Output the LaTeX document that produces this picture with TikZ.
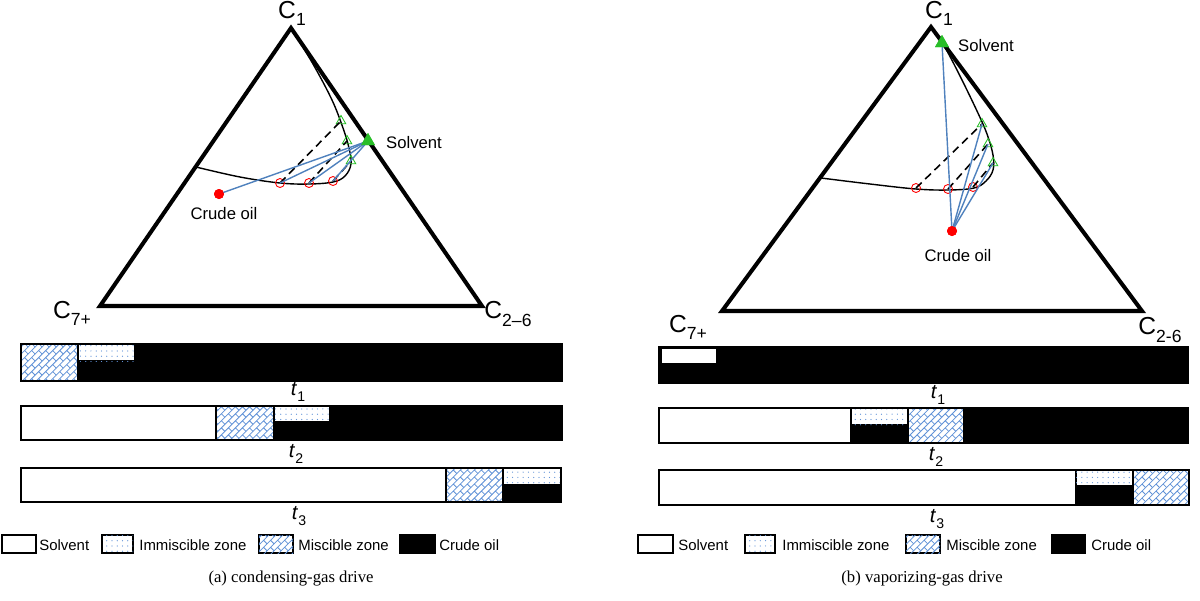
\documentclass[tikz,border=0pt]{standalone}
\usepackage{fontspec}
\setmainfont{Liberation Serif}
\setsansfont{Liberation Sans}
\usetikzlibrary{shapes.geometric,patterns}
\definecolor{tieblue}{RGB}{79,129,189}
\definecolor{hatchblue}{RGB}{95,145,215}
\definecolor{mkgreen}{RGB}{40,190,40}
\definecolor{mkred}{RGB}{255,0,0}
\pgfdeclarepatternformonly{sparsedots}{\pgfqpoint{-1pt}{-1pt}}{\pgfqpoint{4pt}{4pt}}{\pgfqpoint{3pt}{3pt}}{%
  \pgfpathcircle{\pgfqpoint{0.75pt}{0.75pt}}{0.35pt}\pgfusepath{fill}}
\pgfdeclarepatternformonly{diagbrick}{\pgfqpoint{-0.5pt}{-0.5pt}}{\pgfqpoint{4.5pt}{4.5pt}}{\pgfqpoint{4pt}{4pt}}{%
  \pgfsetlinewidth{0.45pt}%
  \pgfpathmoveto{\pgfqpoint{0pt}{0pt}}\pgfpathlineto{\pgfqpoint{4pt}{4pt}}%
  \pgfpathmoveto{\pgfqpoint{2pt}{2pt}}\pgfpathlineto{\pgfqpoint{4pt}{0pt}}%
  \pgfusepath{stroke}}
\newcommand{\csub}[1]{\raisebox{-0.55ex}{\fontsize{10}{10}\selectfont #1}}
\newcommand{\tlab}[1]{\textit{t}\raisebox{-0.6ex}{\fontsize{8}{8}\selectfont #1}}
\begin{document}
\begin{tikzpicture}[x=0.02cm,y=-0.02cm,
  font=\sffamily,
  tri/.style={draw=black,line width=2.3pt,line join=miter},
  binodal/.style={draw=black,line width=0.8pt},
  tieline/.style={draw=black,line width=0.9pt,dash pattern=on 4.5pt off 2.8pt},
  blueline/.style={draw=tieblue,line width=0.8pt},
  oilpt/.style={circle,fill=mkred,inner sep=0pt,minimum size=0.2cm},
  bubble/.style={circle,draw=mkred,line width=0.5pt,inner sep=0pt,minimum size=0.18cm},
  solpt/.style={regular polygon,regular polygon sides=3,fill=mkgreen,inner sep=0pt,minimum size=0.32cm},
  dew/.style={regular polygon,regular polygon sides=3,draw=mkgreen,line width=0.5pt,inner sep=0pt,minimum size=0.22cm},
  clab/.style={font=\sffamily\fontsize{14}{16}\selectfont,inner sep=0pt},
  plab/.style={font=\sffamily\fontsize{9.5}{11}\selectfont,inner sep=0pt},
  tl/.style={font=\sffamily\fontsize{11.5}{12}\selectfont,inner sep=0pt},
  leg/.style={font=\sffamily\fontsize{8.5}{10}\selectfont,inner sep=0pt,anchor=west},
  captext/.style={font=\rmfamily\fontsize{9.5}{11}\selectfont,inner sep=0pt},
  barframe/.style={draw=black,line width=1.1pt},
  cellline/.style={draw=black,line width=0.7pt},
  hatchcell/.style={fill=white,postaction={pattern=diagbrick,pattern color=hatchblue}},
  dotcell/.style={fill=white,postaction={pattern=sparsedots,pattern color=hatchblue}},
]
\useasboundingbox (0,0) rectangle (1200,600);

% ================= (a) condensing-gas drive =================
\draw[tri] (291,28) -- (482,306) -- (100,306) -- cycle;

\draw[binodal] plot[smooth,tension=0.6] coordinates {(196,167) (240,177) (280,183) (309,184) (333,182) (345,176) (351,164) (349,148) (343,128) (332,100) (313,64) (291,28)};

\node[bubble] (ab1) at (280,183) {};
\node[bubble] (ab2) at (309,183) {};
\node[bubble] (ab3) at (333,181) {};
\node[dew] (ad1) at (341,121) {};
\node[dew] (ad2) at (347,141) {};
\node[dew] (ad3) at (351,161) {};
\node[oilpt] (aoil) at (219,194) {};
\node[solpt] (asol) at (368,141) {};

\draw[tieline] (ab1.center) -- (ad1.center);
\draw[tieline] (ab2.center) -- (ad2.center);
\draw[tieline] (ab3.center) -- (ad3.center);
\draw[blueline] (asol.center) -- (aoil.center);
\draw[blueline] (asol.center) -- (ab1.center);
\draw[blueline] (asol.center) -- (ab2.center);
\draw[blueline] (asol.center) -- (ab3.center);
\node[oilpt] at (aoil) {};
\node[solpt] at (asol) {};

\node[plab] (aSolL) at (414,143) {Solvent};
\node[plab] (aOilL) at (224,214) {Crude oil};

% bars (a)
\fill[black] (21,344) rectangle (562,381);
\path[hatchcell] (21,344) rectangle (78,381);
\draw[cellline] (78,344) -- (78,381);
\path[dotcell,cellline] (78,344) rectangle (135,361);
\draw[barframe] (21,344) rectangle (562,381);
\node[tl] (at1) at (298,392) {\tlab{1}};

\fill[black] (21,406) rectangle (562,440);
\fill[white] (21,406) rectangle (216,440);
\path[hatchcell] (216,406) rectangle (274,440);
\draw[cellline] (216,406) -- (216,440) (274,406) -- (274,440);
\path[dotcell,cellline] (274,406) rectangle (330,422);
\draw[barframe] (21,406) rectangle (562,440);
\node[tl] (at2) at (296,454) {\tlab{2}};

\fill[black] (21,468) rectangle (561,502);
\fill[white] (21,468) rectangle (446,502);
\path[hatchcell] (446,468) rectangle (503,502);
\draw[cellline] (446,468) -- (446,502) (503,468) -- (503,502);
\path[dotcell,cellline] (503,468) rectangle (561,485);
\draw[barframe] (21,468) rectangle (561,502);
\node[tl] (at3) at (299,516) {\tlab{3}};

% vertex labels (a)
\node[clab] (La1) at (292,13) {C\csub{1}};
\node[clab] (La7) at (72,313) {C\csub{7+}};
\node[clab] (La26) at (508,314) {C\csub{2–6}};

% legend (a)
\draw[cellline,fill=white] (2,535) rectangle (36,553);
\node[leg] (aLs) at (39,545) {Solvent};
\path[dotcell,cellline] (102,535) rectangle (133,553);
\node[leg] (aLi) at (139,545) {Immiscible zone};
\path[hatchcell,cellline] (259,535) rectangle (293,553);
\node[leg] (aLm) at (298,545) {Miscible zone};
\draw[cellline,fill=black] (400,535) rectangle (435,553);
\node[leg] (aLc) at (439,545) {Crude oil};

\node[captext] (capa) at (291,578) {(a) condensing-gas drive};

% ================= (b) vaporizing-gas drive =================
\draw[tri] (931,27) -- (1142,311) -- (722,311) -- cycle;

\draw[binodal] plot[smooth,tension=0.6] coordinates {(821,178) (870,184) (916,189) (948,190) (974,188) (986,181) (993,170) (993,155) (987,134) (977,111) (958,72) (943,44) (931,27)};

\node[bubble] (bb1) at (916,188) {};
\node[bubble] (bb2) at (948,189) {};
\node[bubble] (bb3) at (973,187) {};
\node[dew] (bd1) at (982,124) {};
\node[dew] (bd2) at (988,144) {};
\node[dew] (bd3) at (993,163) {};
\node[oilpt] (boil) at (952,231) {};
\node[solpt] (bsol) at (942,43) {};

\draw[tieline] (bb1.center) -- (bd1.center);
\draw[tieline] (bb2.center) -- (bd2.center);
\draw[tieline] (bb3.center) -- (bd3.center);
\draw[blueline] (boil.center) -- (bsol.center);
\draw[blueline] (boil.center) -- (bd1.center);
\draw[blueline] (boil.center) -- (bd2.center);
\draw[blueline] (boil.center) -- (bd3.center);
\node[oilpt] at (boil) {};
\node[solpt] at (bsol) {};

\node[plab] (bSolL) at (986,46) {Solvent};
\node[plab] (bOilL) at (958,256) {Crude oil};

% bars (b)
\fill[black] (659,347) rectangle (1188,383);
\fill[white] (662,349) rectangle (716,363);
\draw[barframe] (659,347) rectangle (1188,383);
\node[tl] (bt1) at (938,395) {\tlab{1}};

\fill[black] (659,408) rectangle (1188,443);
\fill[white] (659,408) rectangle (851,443);
\draw[cellline] (851,408) -- (851,443);
\path[dotcell,cellline] (851,408) rectangle (908,425);
\path[hatchcell] (908,408) rectangle (964,443);
\draw[cellline] (908,408) -- (908,443) (964,408) -- (964,443);
\draw[barframe] (659,408) rectangle (1188,443);
\node[tl] (bt2) at (936,457) {\tlab{2}};

\fill[black] (659,470) rectangle (1189,505);
\fill[white] (659,470) rectangle (1076,505);
\draw[cellline] (1076,470) -- (1076,505);
\path[dotcell,cellline] (1076,470) rectangle (1133,486);
\path[hatchcell] (1133,470) rectangle (1189,505);
\draw[cellline] (1133,470) -- (1133,505);
\draw[barframe] (659,470) rectangle (1189,505);
\node[tl] (bt3) at (937,519) {\tlab{3}};

% vertex labels (b)
\node[clab] (Lb1) at (939,13) {C\csub{1}};
\node[clab] (Lb7) at (688,327) {C\csub{7+}};
\node[clab] (Lb26) at (1160,330) {C\csub{2-6}};

% legend (b)
\draw[cellline,fill=white] (638,535) rectangle (673,553);
\node[leg] (bLs) at (678,545) {Solvent};
\path[dotcell,cellline] (745,535) rectangle (775,553);
\node[leg] (bLi) at (782,545) {Immiscible zone};
\path[hatchcell,cellline] (906,535) rectangle (940,553);
\node[leg] (bLm) at (946,545) {Miscible zone};
\draw[cellline,fill=black] (1052,535) rectangle (1085,553);
\node[leg] (bLc) at (1091,545) {Crude oil};

\node[captext] (capb) at (922,578) {(b) vaporizing-gas drive};
\end{tikzpicture}
\end{document}
